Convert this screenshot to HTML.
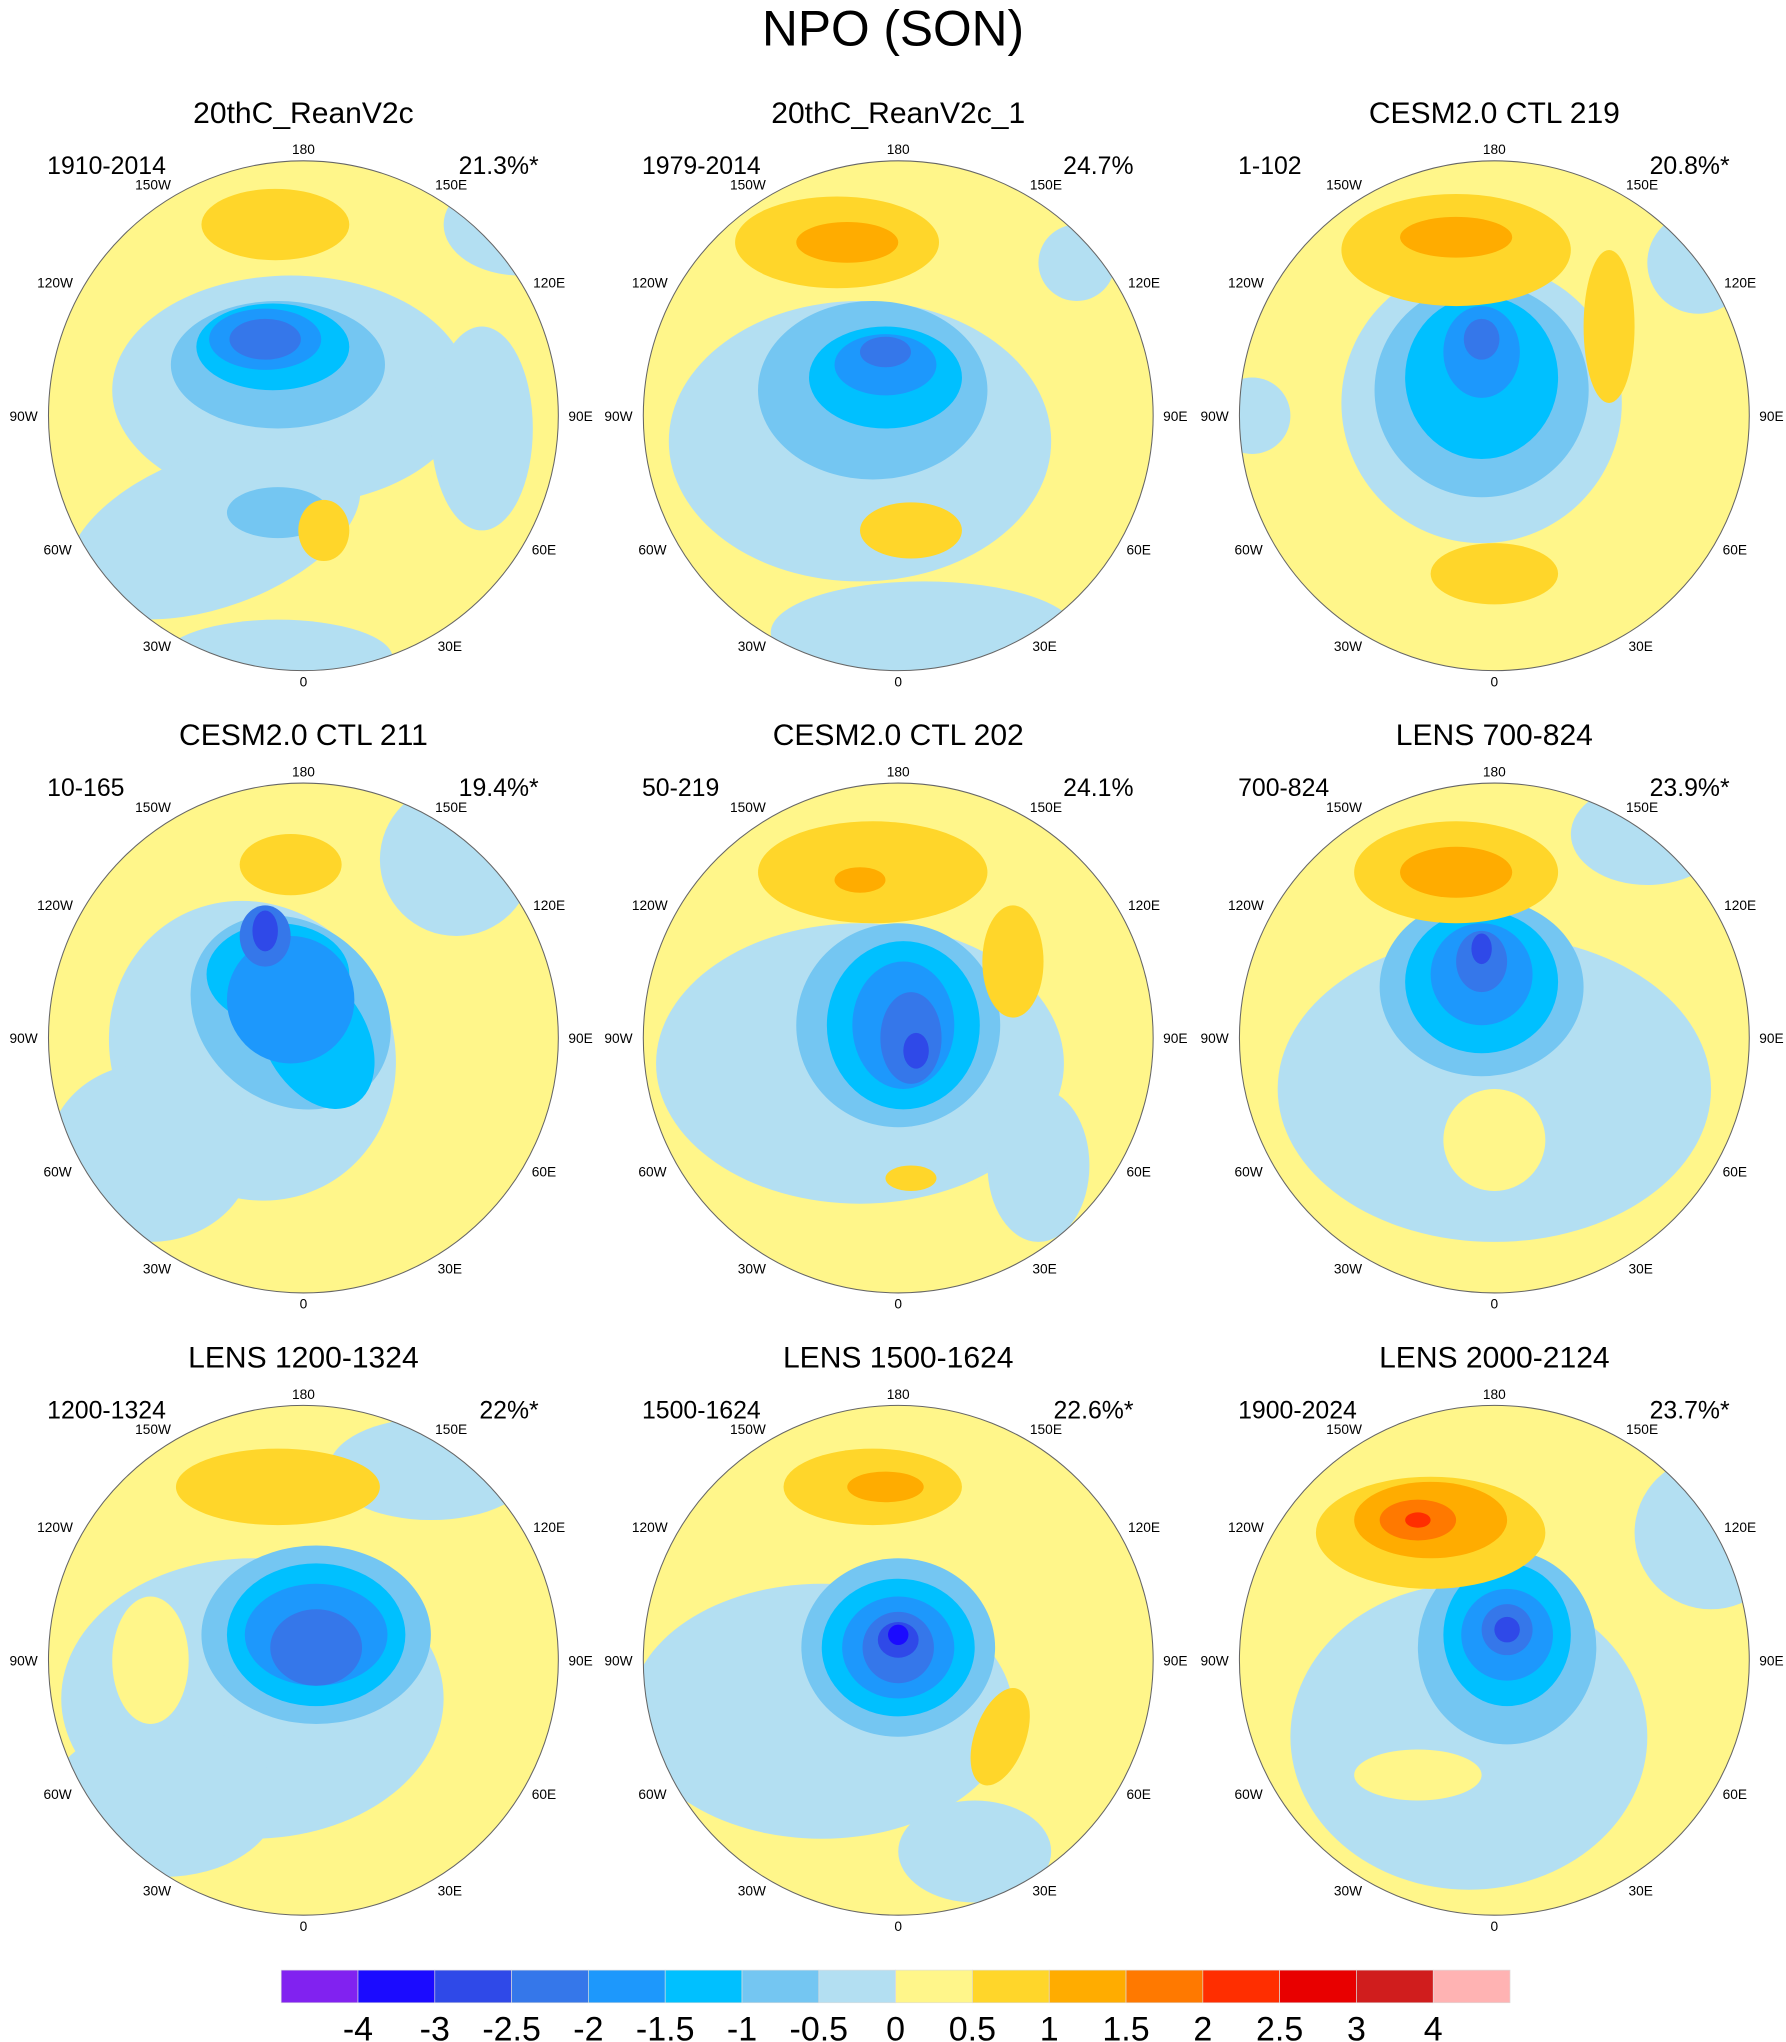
<!DOCTYPE html>
<html><head><meta charset="utf-8">
<style>
html,body{margin:0;padding:0;background:#fff;}
svg{display:block;font-family:"Liberation Sans",sans-serif;}
</style></head>
<body>
<svg id="fig" width="1786" height="2042" viewBox="0 0 1366 1562" xmlns="http://www.w3.org/2000/svg">
<rect width="1366" height="1562" fill="#fff"/>
<text x="683" y="35" font-size="38" text-anchor="middle">NPO (SON)</text>
<g id="panels"></g>
<g id="cbar"></g>
</svg>
<script>
const levelColors = ["#8122f0","#1b0bff","#2f49e8","#3577ea","#1d98fc","#00c0ff","#74c6f2","#b3dff2","#fff68a","#ffd62a","#ffac00","#ff7900","#ff2e00","#e80000","#d01d1d","#ffb3b3"];
const levelLabels = ["-4","-3","-2.5","-2","-1.5","-1","-0.5","0","0.5","1","1.5","2","2.5","3","4"];
const panelTitles = ["20thC_ReanV2c","20thC_ReanV2c_1","CESM2.0 CTL 219","CESM2.0 CTL 211","CESM2.0 CTL 202","LENS 700-824","LENS 1200-1324","LENS 1500-1624","LENS 2000-2124"];
const panelPeriods = ["1910-2014","1979-2014","1-102","10-165","50-219","700-824","1200-1324","1500-1624","1900-2024"];
const panelVariance = ["21.3%*","24.7%","20.8%*","19.4%*","24.1%","23.9%*","22%*","22.6%*","23.7%*"];
const lonLabels = ["180","150E","120E","90E","60E","30E","0","30W","60W","90W","120W","150W"];
const lonLabelDx = [0,113,188,212,184,112,0,-112,-188,-214,-190,-115];
const lonLabelDy = [-204,-177,-102,0,102,176,203,176,102,0,-102,-177];
// anomaly blobs per panel: [dx, dy, rx, ry, levelIndex, rotation] in units of map radius
const panelBlobs = [
 [[-0.05,-0.1,.7,.45,7,0],[-0.35,0.45,.6,.3,7,-20],[0.7,0.05,.2,.4,7,0],[-0.1,0.95,.45,.15,7,0],[0.85,-0.75,.3,.2,7,0],
  [-0.1,-0.2,.42,.25,6,0],[-0.1,0.38,.2,.1,6,0],[-0.12,-0.27,.3,.17,5,0],[-0.15,-0.3,.22,.12,4,0],[-0.15,-0.3,.14,.08,3,0],
  [-0.11,-0.75,.29,.14,9,0],[0.08,0.45,.1,.12,9,0]],
 [[-0.15,0.1,.75,.55,7,0],[0.1,0.85,.6,.2,7,0],[0.7,-0.6,.15,.15,7,0],[-0.1,-0.1,.45,.35,6,0],[-0.05,-0.15,.3,.2,5,0],[-0.05,-0.2,.2,.12,4,0],[-0.05,-0.25,.1,.06,3,0],
  [0.05,0.45,.2,.11,9,0],[-0.24,-0.68,.4,.18,9,0],[-0.2,-0.68,.2,.08,10,0]],
 [[-0.05,-0.05,.55,.55,7,0],[-0.95,0,.15,.15,7,0],[0.8,-0.6,.2,.2,7,0],[-0.05,-0.1,.42,.42,6,0],[-0.05,-0.15,.3,.32,5,0],[-0.05,-0.25,.15,.18,4,0],[-0.05,-0.3,.07,.08,3,0],
  [-0.15,-0.65,.45,.22,9,0],[-0.15,-0.7,.22,.08,10,0],[0.45,-0.35,.1,.3,9,0],[0.0,0.62,.25,.12,9,0]],
 [[0.6,-0.7,.3,.3,7,0],[-0.2,0.05,.55,.6,7,-30],[-0.6,0.45,.4,.35,7,0],[-0.05,-0.1,.42,.35,6,40],[-0.1,-0.25,.28,.2,5,0],[0.05,0.0,.2,.3,5,-30],[-0.05,-0.15,.25,.25,4,45],[-0.15,-0.4,.1,.12,3,0],[-0.15,-0.42,.05,.08,2,0],
  [-0.05,-0.68,.2,.12,9,0]],
 [[-0.15,0.1,.8,.55,7,0],[0.55,0.5,.2,.3,7,0],[0,-0.05,.4,.4,6,0],[0.02,-0.05,.3,.33,5,0],[0.02,-0.05,.2,.25,4,0],[0.05,0.0,.12,.18,3,0],[0.07,0.05,.05,.07,2,0],
  [-0.1,-0.65,.45,.2,9,0],[0.45,-0.3,.12,.22,9,0],[-0.15,-0.62,.1,.05,10,0],[0.05,0.55,.1,.05,9,0]],
 [[0,0.2,.85,.6,7,0],[0.6,-0.8,.3,.2,7,0],[0.0,0.4,.2,.2,8,0],[-0.05,-0.2,.4,.35,6,0],[-0.05,-0.22,.3,.28,5,0],[-0.05,-0.25,.2,.2,4,0],[-0.05,-0.3,.1,.12,3,0],[-0.05,-0.35,.04,.06,2,0],
  [-0.15,-0.65,.4,.2,9,0],[-0.15,-0.65,.22,.1,10,0]],
 [[0.5,-0.75,.4,.2,7,0],[-0.2,0.15,.75,.55,7,0],[-0.55,0.55,.45,.3,7,0],[-0.6,0,.15,.25,8,0],[0.05,-0.1,.45,.35,6,0],[0.05,-0.1,.35,.28,5,0],[0.05,-0.1,.28,.2,4,0],[0.05,-0.05,.18,.15,3,0],
  [-0.1,-0.68,.4,.15,9,0]],
 [[-0.3,0.2,.75,.5,7,0],[0.3,0.75,.3,.2,7,0],[0,-0.05,.38,.35,6,0],[0,-0.05,.3,.27,5,0],[0,-0.05,.22,.2,4,0],[0,-0.05,.14,.14,3,0],[0,-0.08,.08,.07,2,0],[0,-0.1,.04,.04,1,0],
  [-0.1,-0.68,.35,.15,9,0],[-0.05,-0.68,.15,.06,10,0],[0.4,0.3,.1,.2,9,20]],
 [[-0.1,0.3,.7,.6,7,0],[0.85,-0.5,.3,.3,7,0],[-0.3,0.45,.25,.1,8,0],[0.05,-0.05,.35,.38,6,0],[0.05,-0.1,.25,.28,5,0],[0.05,-0.1,.18,.18,4,0],[0.05,-0.12,.1,.1,3,0],[0.05,-0.12,.05,.05,2,0],
  [-0.25,-0.5,.45,.22,9,0],[-0.25,-0.55,.3,.15,10,0],[-0.3,-0.55,.15,.08,11,0],[-0.3,-0.55,.05,.03,12,0]]
];
const NS="http://www.w3.org/2000/svg";
function mk(tag,attrs,parent){const e=document.createElementNS(NS,tag);for(const k in attrs)e.setAttribute(k,attrs[k]);parent.appendChild(e);return e;}
const colX=[232,687,1143], rowY=[318,794,1270], R=195;
const panels=document.getElementById('panels');
panelTitles.forEach((t,i)=>{
  const cx=colX[i%3], cy=rowY[Math.floor(i/3)];
  const g=mk('g',{},panels);
  
  
  const cp=mk('clipPath',{id:'clip'+i},g);
  mk('circle',{cx:cx,cy:cy,r:R},cp);
  const mg=mk('g',{'clip-path':'url(#clip'+i+')'},g);
  const bg=mk('circle',{cx:cx,cy:cy,r:R,fill:levelColors[8]},mg);
  
  
  panelBlobs[i].forEach(b=>{
    const e=mk('ellipse',{cx:cx+b[0]*R,cy:cy+b[1]*R,rx:b[2]*R,ry:b[3]*R,fill:levelColors[b[4]],transform:'rotate('+b[5]+' '+(cx+b[0]*R)+' '+(cy+b[1]*R)+')'},mg);
    
    
  });
  const bd=mk('circle',{cx:cx,cy:cy,r:R,fill:'none',stroke:'#666','stroke-width':0.8},g);
  
  
  const tt=mk('text',{x:cx,y:cy-224,'font-size':23,'text-anchor':'middle'},g);tt.textContent=t;
  
  
  const pl=mk('text',{x:cx-196,y:cy-185,'font-size':19},g);pl.textContent=panelPeriods[i];
  
  
  const vl=mk('text',{x:cx+180,y:cy-185,'font-size':19,'text-anchor':'end'},g);vl.textContent=panelVariance[i];
  
  
  lonLabels.forEach((l,k)=>{
    const tx=mk('text',{x:cx+lonLabelDx[k],y:cy+lonLabelDy[k]+4,'font-size':10.5,'text-anchor':'middle'},g);tx.textContent=l;
    
    
  });
});
const cb=document.getElementById('cbar');
const x0=215,x1=1155,w=(x1-x0)/levelColors.length;
levelColors.forEach((c,i)=>{
  const r=mk('rect',{x:x0+i*w,y:1507,width:w,height:25,fill:c,stroke:'#ddd','stroke-width':0.5},cb);
  
  
});
levelLabels.forEach((l,i)=>{
  const t=mk('text',{x:x0+(i+1)*w,y:1561,'font-size':26,'text-anchor':'middle'},cb);t.textContent=l;
  
  
});
</script>
</body></html>
